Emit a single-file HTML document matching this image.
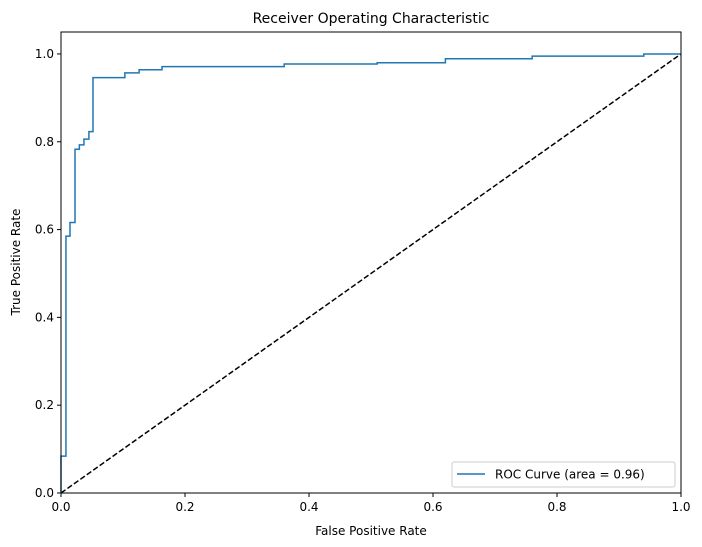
<!DOCTYPE html>
<html><head><meta charset="utf-8"><style>
html,body{margin:0;padding:0;background:#fff;}
svg{display:block;font-family:"DejaVu Sans","Liberation Sans",sans-serif;}
</style></head><body>
<svg id="chart" width="702" height="547" xmlns="http://www.w3.org/2000/svg">
<text x="371" y="23" text-anchor="middle" font-size="14">Receiver Operating Characteristic</text>
<g id="xticks"></g>
<g id="yticks"></g>
<text x="371" y="535" text-anchor="middle" font-size="12">False Positive Rate</text>
<text x="20" y="262" text-anchor="middle" font-size="12" transform="rotate(-90 20 262)">True Positive Rate</text>
<g id="plot"></g>
<rect x="61" y="32" width="620" height="461" fill="none" stroke="#000" stroke-width="1"/>
<g>
<rect x="452" y="462" width="223" height="25" rx="2" fill="#fff" fill-opacity="0.8" stroke="#ccc"/>
<line x1="457" y1="474" x2="485" y2="474" stroke="#1f77b4" stroke-width="1.5"/>
<text x="495" y="478.5" font-size="12">ROC Curve (area = 0.96)</text>
</g>
</svg>
<script>
const fpr = [0, 0, 0.008, 0.008, 0.0145, 0.0145, 0.0226, 0.0226, 0.0296, 0.0296, 0.037, 0.037, 0.045, 0.045, 0.0516, 0.0516, 0.103, 0.103, 0.126, 0.126, 0.163, 0.163, 0.36, 0.36, 0.51, 0.51, 0.62, 0.62, 0.76, 0.76, 0.94, 0.94, 1.0];
const tpr = [0, 0.084, 0.084, 0.585, 0.585, 0.616, 0.616, 0.783, 0.783, 0.793, 0.793, 0.806, 0.806, 0.823, 0.823, 0.946, 0.946, 0.957, 0.957, 0.964, 0.964, 0.971, 0.971, 0.977, 0.977, 0.980, 0.980, 0.989, 0.989, 0.995, 0.995, 1.0, 1.0];
const xTickLabels = ["0.0","0.2","0.4","0.6","0.8","1.0"];
const yTickLabels = ["0.0","0.2","0.4","0.6","0.8","1.0"];
const NS="http://www.w3.org/2000/svg";
const X0=61,X1=681,Y0=493,Y1=32,YMAX=1.05;
const sx=v=>X0+v*(X1-X0);
const sy=v=>Y0-v/YMAX*(Y0-Y1);
function mk(t,a,p){const e=document.createElementNS(NS,t);for(const k in a)e.setAttribute(k,a[k]);p.appendChild(e);return e;}
const xg=document.getElementById('xticks'),yg=document.getElementById('yticks'),plot=document.getElementById('plot');
xTickLabels.forEach(l=>{const x=sx(parseFloat(l));
const t=mk('line',{x1:x,y1:Y0,x2:x,y2:Y0+4,stroke:'#000'},xg);


const tx=mk('text',{x:x,y:Y0+18,'text-anchor':'middle','font-size':12},xg);tx.textContent=l;

});
yTickLabels.forEach(l=>{const y=sy(parseFloat(l));
const t=mk('line',{x1:X0-4,y1:y,x2:X0,y2:y,stroke:'#000'},yg);


const tx=mk('text',{x:X0-7,y:y+4,'text-anchor':'end','font-size':12},yg);tx.textContent=l;

});
const diag=mk('line',{x1:sx(0),y1:sy(0),x2:sx(1),y2:sy(1),stroke:'#000','stroke-width':1.5,'stroke-dasharray':'5.5,2.4'},plot);


const roc=mk('polyline',{points:fpr.map((v,i)=>sx(v)+','+sy(tpr[i])).join(' '),fill:'none',stroke:'#1f77b4','stroke-width':1.5},plot);


</script>
</body></html>
